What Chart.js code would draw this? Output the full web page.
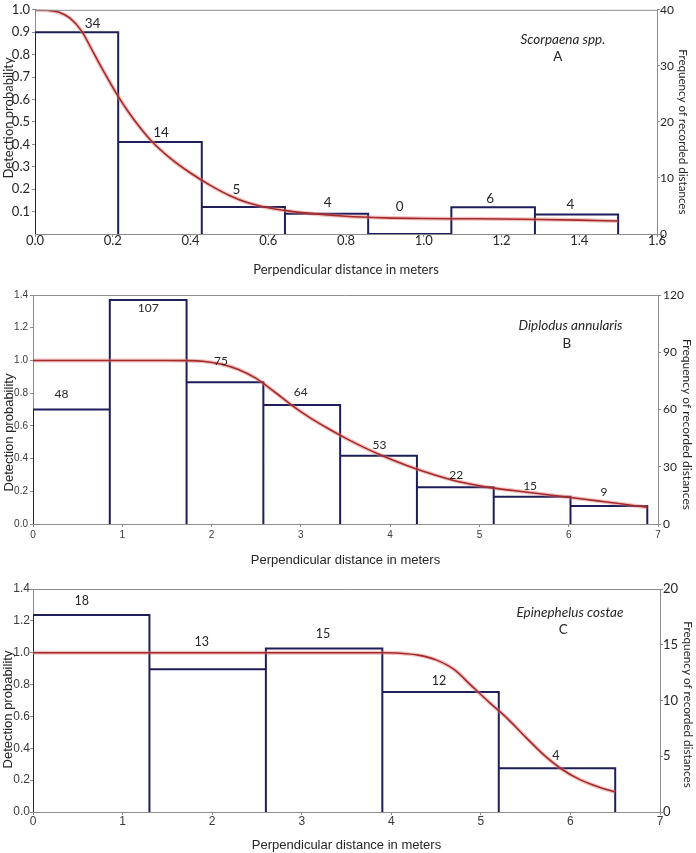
<!DOCTYPE html>
<html><head><meta charset="utf-8">
<script src="https://cdn.jsdelivr.net/npm/chart.js@4"></script>
<style>
html,body{margin:0;padding:0;background:#fff;}
#wrap{position:relative;width:696px;height:853px;overflow:hidden;}
canvas{position:absolute;left:0;}
</style></head><body>
<div id="wrap">
<canvas id="cA" width="696" height="285" style="top:0px"></canvas>
<canvas id="cB" width="696" height="285" style="top:285px"></canvas>
<canvas id="cC" width="696" height="283" style="top:570px"></canvas>
</div>
<script>
// ---------- DATA ----------
// Panel A: Scorpaena spp.
const A_edges   = [0, 0.214, 0.429, 0.643, 0.857, 1.071, 1.286, 1.5];
const A_heights = [0.90, 0.41, 0.12, 0.09, 0.0, 0.119, 0.087];
const A_counts  = [34, 14, 5, 4, 0, 6, 4];
const A_curveX  = [0, 0.03, 0.06, 0.09, 0.12, 0.15, 0.18, 0.21, 0.24, 0.27, 0.30, 0.35, 0.40, 0.45, 0.50, 0.55, 0.60, 0.65, 0.70, 0.80, 0.90, 1.00, 1.10, 1.20, 1.30, 1.40, 1.50];
const A_curveY  = [1.0, 0.998, 0.99, 0.963, 0.905, 0.81, 0.715, 0.625, 0.545, 0.475, 0.414, 0.335, 0.272, 0.218, 0.172, 0.138, 0.117, 0.103, 0.093, 0.079, 0.072, 0.069, 0.068, 0.067, 0.065, 0.062, 0.058];
const A_xTicks  = [0, 0.2, 0.4, 0.6, 0.8, 1.0, 1.2, 1.4, 1.6];
const A_yTicks  = [0.1, 0.2, 0.3, 0.4, 0.5, 0.6, 0.7, 0.8, 0.9, 1.0];
const A_y2Ticks = [0, 10, 20, 30, 40];

// Panel B: Diplodus annularis
const B_edges   = [0, 0.86, 1.72, 2.58, 3.44, 4.30, 5.16, 6.02, 6.88];
const B_heights = [0.70, 1.37, 0.866, 0.727, 0.417, 0.224, 0.167, 0.11];
const B_counts  = [48, 107, 75, 64, 53, 22, 15, 9];
const B_curveX  = [0, 0.5, 1.0, 1.5, 1.7, 1.9, 2.1, 2.3, 2.5, 2.7, 2.9, 3.1, 3.3, 3.5, 3.7, 3.9, 4.2, 4.5, 4.8, 5.1, 5.4, 5.7, 6.0, 6.3, 6.6, 6.88];
const B_curveY  = [1, 1, 1, 1, 0.999, 0.995, 0.978, 0.945, 0.89, 0.81, 0.725, 0.65, 0.585, 0.525, 0.47, 0.42, 0.355, 0.30, 0.255, 0.224, 0.203, 0.183, 0.164, 0.143, 0.122, 0.102];
const B_xTicks  = [0, 1, 2, 3, 4, 5, 6, 7];
const B_yTicks  = [0, 0.2, 0.4, 0.6, 0.8, 1.0, 1.2, 1.4];
const B_y2Ticks = [0, 30, 60, 90, 120];

// Panel C: Epinephelus costae
const C_edges   = [0, 1.3, 2.6, 3.9, 5.2, 6.5];
const C_heights = [1.237, 0.896, 1.027, 0.753, 0.274];
const C_counts  = [18, 13, 15, 12, 4];
const C_curveX  = [0, 1, 2, 3, 3.9, 4.1, 4.3, 4.5, 4.7, 4.9, 5.1, 5.3, 5.5, 5.7, 5.9, 6.1, 6.3, 6.5];
const C_curveY  = [1, 1, 1, 1, 1.0, 0.997, 0.985, 0.955, 0.895, 0.79, 0.685, 0.585, 0.47, 0.36, 0.27, 0.205, 0.16, 0.125];
const C_xTicks  = [0, 1, 2, 3, 4, 5, 6, 7];
const C_yTicks  = [0, 0.2, 0.4, 0.6, 0.8, 1.0, 1.2, 1.4];
const C_y2Ticks = [0, 5, 10, 15, 20];

// ---------- LAYOUT / STYLE ----------
const NAVY = '#1e1e5a', RED = '#a52a2a', HALO = 'rgba(225,120,120,0.45)';
const AX = '#8c8c8c', TXT = '#262626', TXT2 = '#3a3a3a';
const CAL = 'Lato, "Open Sans", sans-serif';
const ARI = '"Liberation Sans", Arial, sans-serif';
const Y_TITLE = 'Detection probability';
const Y2_TITLE = 'Frequency of recorded distances';
const X_TITLE = 'Perpendicular distance in meters';

const annotPlugin = {
  id: 'annot',
  afterDatasetsDraw(chart, args, opts) {
    const {ctx, chartArea: a, scales} = chart;
    ctx.save();
    ctx.strokeStyle = AX; ctx.lineWidth = 1;
    ctx.beginPath(); ctx.moveTo(a.left, a.top + 0.5); ctx.lineTo(a.right, a.top + 0.5); ctx.stroke();
    ctx.textAlign = 'center'; ctx.textBaseline = 'middle';
    (opts.items || []).forEach(it => {
      ctx.font = it.font; ctx.fillStyle = it.color || TXT;
      ctx.fillText(it.text, scales.x.getPixelForValue(it.x) + (it.dx || 0), scales.y.getPixelForValue(it.y) + (it.dy || 0));
    });
    // vertical axis titles
    (opts.vtitles || []).forEach(t => {
      ctx.save();
      ctx.font = t.font; ctx.fillStyle = TXT;
      ctx.translate(t.cx, (a.top + a.bottom) / 2 + t.dy);
      ctx.rotate(t.rot);
      ctx.fillText(t.text, 0, 0);
      ctx.restore();
    });
    ctx.restore();
  }
};

function makePanel(id, p) {
  const hist = [];
  p.heights.forEach((h, i) => {
    hist.push({x: p.edges[i], y: 0}, {x: p.edges[i], y: h}, {x: p.edges[i + 1], y: h}, {x: p.edges[i + 1], y: 0});
  });
  const curve = p.curveX.map((x, i) => ({x: x, y: p.curveY[i]}));
  const items = p.counts.map((c, i) => ({
    text: String(c), x: (p.edges[i] + p.edges[i + 1]) / 2, y: p.heights[i],
    dx: p.nudge[i][0], dy: p.nudge[i][1], font: p.countFont, color: TXT
  }));
  items.push({text: p.species, x: p.spX, y: p.spY, font: p.spFont, color: TXT});
  items.push({text: p.letter, x: p.ltX, y: p.ltY, font: p.ltFont, color: TXT});
  const vtitles = [
    {text: Y_TITLE, cx: p.yTitleX, dy: p.yTitleDy, rot: -Math.PI / 2, font: p.yTitleFont},
    {text: Y2_TITLE, cx: p.y2TitleX, dy: p.y2TitleDy, rot: Math.PI / 2, font: p.y2TitleFont}
  ];

  new Chart(document.getElementById(id), {
    type: 'line',
    data: {datasets: [
      {data: hist, borderColor: NAVY, borderWidth: 2, pointRadius: 0, tension: 0, yAxisID: 'y', order: 3},
      {data: curve, borderColor: HALO, borderWidth: 4, pointRadius: 0, cubicInterpolationMode: 'monotone', yAxisID: 'y', order: 2},
      {data: curve, borderColor: RED, borderWidth: 1.6, pointRadius: 0, cubicInterpolationMode: 'monotone', yAxisID: 'y', order: 1}
    ]},
    options: {
      responsive: false, animation: false, events: [],
      layout: {padding: {top: p.padTop, left: 0, right: 0, bottom: 0}},
      plugins: {legend: {display: false}, tooltip: {enabled: false}, annot: {items: items, vtitles: vtitles}},
      scales: {
        x: {
          type: 'linear', position: 'bottom', min: p.xMin, max: p.xMax,
          afterBuildTicks: s => { s.ticks = p.xTicks.map(v => ({value: v})); },
          afterFit: s => { s.height = p.xH; },
          ticks: {autoSkip: false, maxRotation: 0, font: p.xTickFont, color: p.tickColor, padding: p.xTickPad,
                  callback: v => v.toFixed(p.xDec)},
          grid: {drawOnChartArea: false, tickLength: 3, color: AX},
          border: {color: AX},
          title: {display: true, text: X_TITLE, font: p.xTitleFont, color: TXT,
                  padding: {top: 0, bottom: p.xTitlePad}}
        },
        y: {
          type: 'linear', position: 'left', min: 0, max: p.yMax,
          afterBuildTicks: s => { s.ticks = p.yTicks.map(v => ({value: v})); },
          afterFit: s => { s.width = p.leftW; },
          ticks: {autoSkip: false, font: p.yTickFont, color: p.tickColor, padding: p.yTickPad,
                  callback: v => v.toFixed(1)},
          grid: {drawOnChartArea: false, tickLength: 3, color: AX},
          border: {color: AX}
        },
        y2: {
          type: 'linear', position: 'right', min: 0, max: p.y2Max,
          afterBuildTicks: s => { s.ticks = p.y2Ticks.map(v => ({value: v})); },
          afterFit: s => { s.width = p.rightW; },
          ticks: {autoSkip: false, font: p.y2TickFont, color: TXT, padding: p.y2TickPad},
          grid: {drawOnChartArea: false, tickLength: 3, color: AX},
          border: {color: AX}
        }
      }
    },
    plugins: [annotPlugin]
  });
}

makePanel('cA', {
  edges: A_edges, heights: A_heights, counts: A_counts, curveX: A_curveX, curveY: A_curveY,
  xTicks: A_xTicks, yTicks: A_yTicks, y2Ticks: A_y2Ticks,
  xMin: 0, xMax: 1.6, yMax: 1.0, y2Max: 40, xDec: 1,
  padTop: 7, leftW: 35, rightW: 39, xH: 51,
  tickColor: TXT,
  xTickFont: {family: CAL, size: 13, lineHeight: 1}, xTickPad: -3,
  yTickFont: {family: CAL, size: 13, lineHeight: 1.2}, yTickPad: 2,
  y2TickFont: {family: CAL, size: 12}, y2TickPad: 0,
  xTitleFont: {family: CAL, size: 13}, xTitlePad: 7,
  yTitleFont: '13px ' + CAL, yTitleX: 9, yTitleDy: -4,
  y2TitleFont: '11.6px ' + CAL, y2TitleX: 683, y2TitleDy: 10,
  countFont: '13.5px ' + CAL,
  nudge: [[16, -9], [1, -9], [-7, -17], [1, -11], [-10, -27], [-3, -9], [-6, -10]],
  species: 'Scorpaena spp.', spX: 1.358, spY: 0.868, spFont: 'italic 13.5px ' + CAL,
  letter: 'A', ltX: 1.345, ltY: 0.793, ltFont: '13.5px ' + CAL
});

makePanel('cB', {
  edges: B_edges, heights: B_heights, counts: B_counts, curveX: B_curveX, curveY: B_curveY,
  xTicks: B_xTicks, yTicks: B_yTicks, y2Ticks: B_y2Ticks,
  xMin: 0, xMax: 7, yMax: 1.4, y2Max: 120, xDec: 0,
  padTop: 10, leftW: 33, rightW: 38, xH: 46,
  tickColor: TXT2,
  xTickFont: {family: ARI, size: 10}, xTickPad: 2,
  yTickFont: {family: ARI, size: 10}, yTickPad: 2,
  y2TickFont: {family: CAL, size: 12}, y2TickPad: 2,
  xTitleFont: {family: ARI, size: 13}, xTitlePad: 2,
  yTitleFont: '13px ' + ARI, yTitleX: 9, yTitleDy: 23,
  y2TitleFont: '12px ' + CAL, y2TitleX: 687, y2TitleDy: 15,
  countFont: '12px ' + CAL,
  nudge: [[-10, -15], [0, 8], [-4, -21], [-1, -13], [1, -11], [1, -12], [-2, -11], [-5, -14]],
  species: 'Diplodus annularis', spX: 6.02, spY: 1.21, spFont: 'italic 13.5px ' + CAL,
  letter: 'B', ltX: 5.98, ltY: 1.10, ltFont: '13.5px ' + CAL
});

makePanel('cC', {
  edges: C_edges, heights: C_heights, counts: C_counts, curveX: C_curveX, curveY: C_curveY,
  xTicks: C_xTicks, yTicks: C_yTicks, y2Ticks: C_y2Ticks,
  xMin: 0, xMax: 7, yMax: 1.4, y2Max: 20, xDec: 0,
  padTop: 19, leftW: 33, rightW: 36, xH: 41,
  tickColor: TXT2,
  xTickFont: {family: ARI, size: 12}, xTickPad: -1,
  yTickFont: {family: ARI, size: 12}, yTickPad: 0,
  y2TickFont: {family: CAL, size: 13}, y2TickPad: 0,
  xTitleFont: {family: ARI, size: 13}, xTitlePad: 0,
  yTitleFont: '13px ' + ARI, yTitleX: 8, yTitleDy: 9,
  y2TitleFont: '11.7px ' + CAL, y2TitleX: 688, y2TitleDy: 4,
  countFont: '12.5px ' + CAL,
  nudge: [[-9.5, -14], [-6, -27.6], [-1, -14], [-1.5, -11], [-1, -12]],
  species: 'Epinephelus costae', spX: 5.995, spY: 1.249, spFont: 'italic 13.5px ' + CAL,
  letter: 'C', ltX: 5.92, ltY: 1.142, ltFont: '13.5px ' + CAL
});
</script>
</body></html>
